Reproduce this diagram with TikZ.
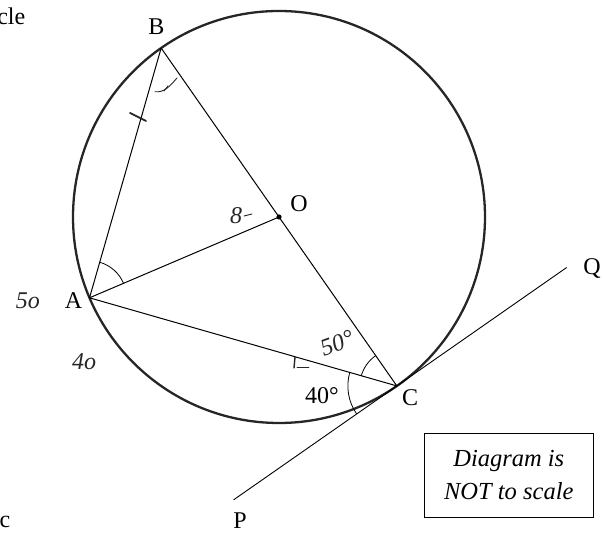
\documentclass[tikz,border=0pt]{standalone}
\usepackage{fontspec}
\setmainfont{Liberation Serif}
\usetikzlibrary{calc}
\begin{document}
\begin{tikzpicture}[x=1pt,y=1pt,
  lbl/.style={font=\fontsize{24}{28}\selectfont, inner sep=0pt},
  hand/.style={font=\fontsize{24}{26}\selectfont\itshape, text=black!85, inner sep=0pt},
  chord/.style={line width=1pt},
  circ/.style={line width=2.3pt, black!85},
  tang/.style={line width=0.9pt},
  ang/.style={line width=0.8pt},
  handline/.style={line width=0.9pt, black!85, line cap=round}]
\useasboundingbox (0,0) rectangle (604,532);
\coordinate (O) at (279,315);
\coordinate (B) at ($(O)+(124.9:206)$);
\coordinate (C) at ($(O)+(-55.1:206)$);
\coordinate (A) at ($(O)+(203.1:206)$);
\coordinate (Q) at ($(C)+(34.9:207)$);
\coordinate (P) at ($(C)+(214.9:199)$);
% circle
\draw[circ] (O) circle[radius=206pt];
% chords
\draw[chord] (A) -- (B);
\draw[chord] (B) -- (C);
\draw[chord] (A) -- (O);
\draw[chord] (A) -- (C);
\draw[tang] (P) -- (Q);
\fill (O) circle[radius=2.6pt];
% angle arcs
\draw[ang] ([shift={(23.1:37pt)}]A) arc[start angle=23.1, end angle=73.9, radius=37pt];
\draw[ang] ([shift={(124.9:37pt)}]C) arc[start angle=124.9, end angle=164.07, radius=37pt];
\draw[ang] ([shift={(164.07:49pt)}]C) arc[start angle=164.07, end angle=214.9, radius=49pt];
% labels
\node[lbl] (lB) at (156.5,505) {B};
\node[lbl] (lO) at (299,328) {O};
\node[lbl] (lA) at (73.5,231.5) {A};
\node[lbl] (lC) at (410,134.5) {C};
\node[lbl] (lQ) at (592,263) {Q};
\node[lbl] (lP) at (240,11) {P};
\node[lbl] (l40) at (322,136.3) {40°};
\node[lbl, anchor=base east] (lcle) at (25.5,507.5) {cle};
\node[lbl] (lc) at (5,10) {c};
% note box
\node[draw, line width=1pt, minimum width=169pt, minimum height=84pt, align=center,
  font=\fontsize{24.5}{33}\selectfont\itshape, inner sep=0pt] (box) at (508.8,56.7) {Diagram is\\NOT to scale};
% handwritten annotations
\node[hand] (h50) at (28,231) {5o};
\node[hand] (h40) at (84,170) {4o};
\node[hand] (h8) at (236,316) {8};
\node[hand, rotate=20] (h50d) at (337,189) {50°};
\draw[handline] (244,316) -- (252,318);
\draw[handline, line width=1.8pt] (130,419) -- (146,411);
\draw[handline, line width=1.4pt] (295,175) -- (294,164);
\draw[handline] (297,165) -- (309,165);
\draw[handline] (155,440.3) .. controls (164,439) and (170,446) .. (177,454);
\draw[handline] (164,441) -- (168,446);
\end{tikzpicture}
\end{document}
